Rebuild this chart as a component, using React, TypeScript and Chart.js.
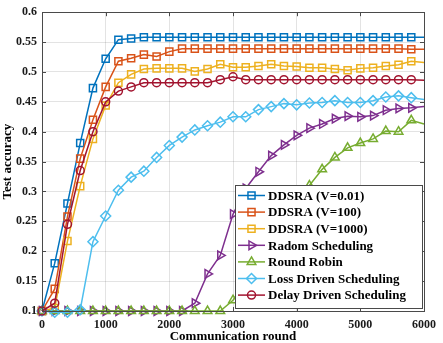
import React, { useEffect, useRef } from 'react';
import { Chart, registerables } from 'chart.js';
import { drawPoint } from 'chart.js/helpers';

Chart.register(...registerables);

const rounds = [0, 200, 400, 600, 800, 1000, 1200, 1400, 1600, 1800, 2000, 2200, 2400, 2600, 2800, 3000, 3200, 3400, 3600, 3800, 4000, 4200, 4400, 4600, 4800, 5000, 5200, 5400, 5600, 5800, 6000];

const ddsra001 = [0.1, 0.18, 0.28, 0.381, 0.473, 0.522, 0.554, 0.556, 0.558, 0.558, 0.558, 0.558, 0.558, 0.558, 0.558, 0.558, 0.558, 0.558, 0.558, 0.558, 0.558, 0.558, 0.558, 0.558, 0.558, 0.558, 0.558, 0.558, 0.558, 0.558, 0.558];
const ddsra100 = [0.1, 0.137, 0.258, 0.355, 0.42, 0.475, 0.518, 0.523, 0.529, 0.526, 0.534, 0.539, 0.539, 0.539, 0.539, 0.539, 0.539, 0.539, 0.539, 0.539, 0.539, 0.539, 0.539, 0.539, 0.539, 0.539, 0.539, 0.539, 0.539, 0.538, 0.538];
const ddsra1000 = [0.1, 0.105, 0.217, 0.309, 0.388, 0.444, 0.482, 0.496, 0.505, 0.506, 0.506, 0.506, 0.501, 0.505, 0.513, 0.508, 0.508, 0.51, 0.513, 0.51, 0.509, 0.507, 0.507, 0.505, 0.503, 0.506, 0.507, 0.51, 0.512, 0.518, 0.516];
const randomSched = [0.1, 0.1, 0.1, 0.1, 0.1, 0.1, 0.1, 0.1, 0.1, 0.1, 0.1, 0.1, 0.113, 0.162, 0.193, 0.262, 0.305, 0.333, 0.36, 0.378, 0.394, 0.406, 0.413, 0.422, 0.426, 0.425, 0.427, 0.436, 0.439, 0.44, 0.442];
const roundRobin = [0.1, 0.1, 0.1, 0.1, 0.1, 0.1, 0.1, 0.1, 0.1, 0.1, 0.1, 0.1, 0.1, 0.1, 0.1, 0.118, 0.15, 0.19, 0.225, 0.255, 0.285, 0.31, 0.337, 0.357, 0.373, 0.381, 0.388, 0.401, 0.4, 0.419, 0.413];
const lossDriven = [0.1, 0.098, 0.098, 0.102, 0.216, 0.259, 0.302, 0.324, 0.334, 0.357, 0.377, 0.391, 0.403, 0.41, 0.416, 0.425, 0.425, 0.437, 0.442, 0.447, 0.445, 0.448, 0.449, 0.452, 0.449, 0.449, 0.452, 0.458, 0.46, 0.457, 0.454];
const delayDriven = [0.1, 0.113, 0.245, 0.335, 0.4, 0.45, 0.468, 0.475, 0.482, 0.482, 0.482, 0.482, 0.482, 0.482, 0.487, 0.492, 0.487, 0.487, 0.487, 0.487, 0.487, 0.487, 0.487, 0.487, 0.487, 0.487, 0.487, 0.487, 0.487, 0.487, 0.486];

const seriesNames = ['DDSRA (V=0.01)', 'DDSRA (V=100)', 'DDSRA (V=1000)', 'Radom Scheduling', 'Round Robin', 'Loss Driven Scheduling', 'Delay Driven Scheduling'];
const seriesValues = [ddsra001, ddsra100, ddsra1000, randomSched, roundRobin, lossDriven, delayDriven];
const seriesColors = ['#0072BD', '#D95319', '#EDB120', '#7E2F8E', '#77AC30', '#4DBEEE', '#A2142F'];
const seriesMarkers = ['rect', 'rect', 'rect', 'triangle', 'triangle', 'rectRot', 'circle'];
const markerRotation = [0, 0, 0, 90, 0, 0, 0];
const markerRadius = [5, 5, 5, 5, 5, 5, 4];

const xTicks = [0, 1000, 2000, 3000, 4000, 5000, 6000];
const yTicks = [0.1, 0.15, 0.2, 0.25, 0.3, 0.35, 0.4, 0.45, 0.5, 0.55, 0.6];

const FONT = "'Liberation Serif', 'Times New Roman', serif";

export default function App() {
  const ref = useRef<HTMLCanvasElement>(null);

  useEffect(() => {
    const canvas = ref.current;
    if (!canvas) return;

    const frame = {
      id: 'frameAndLegend',
      afterDraw(chart: any) {
        const ctx = chart.ctx as CanvasRenderingContext2D;
        const a = chart.chartArea;
        const xs = chart.scales.x;
        const ys = chart.scales.y;
        ctx.save();
        ctx.strokeStyle = '#4a4a4a';
        ctx.lineWidth = 1;
        ctx.strokeRect(Math.round(a.left) + 0.5, Math.round(a.top) + 0.5, Math.round(a.right - a.left), Math.round(a.bottom - a.top));
        const tl = 4;
        ctx.beginPath();
        for (const v of xTicks) {
          const px = Math.round(xs.getPixelForValue(v)) + 0.5;
          ctx.moveTo(px, a.bottom);
          ctx.lineTo(px, a.bottom - tl);
          ctx.moveTo(px, a.top);
          ctx.lineTo(px, a.top + tl);
        }
        for (const v of yTicks) {
          const py = Math.round(ys.getPixelForValue(v)) + 0.5;
          ctx.moveTo(a.left, py);
          ctx.lineTo(a.left + tl, py);
          ctx.moveTo(a.right, py);
          ctx.lineTo(a.right - tl, py);
        }
        ctx.stroke();

        // legend
        const bx = 235, by = 185, bw = 187, bh = 123;
        ctx.fillStyle = '#ffffff';
        ctx.fillRect(bx, by, bw, bh);
        ctx.strokeStyle = '#4a4a4a';
        ctx.lineWidth = 1;
        ctx.strokeRect(bx + 0.5, by + 0.5, bw, bh);
        const rowH = 16.6;
        ctx.font = `bold 13px ${FONT}`;
        ctx.textBaseline = 'middle';
        ctx.textAlign = 'left';
        seriesNames.forEach((name, i) => {
          const cy = by + 10.5 + i * rowH;
          ctx.strokeStyle = seriesColors[i];
          ctx.lineWidth = 1.5;
          ctx.beginPath();
          ctx.moveTo(bx + 3, cy);
          ctx.lineTo(bx + 30, cy);
          ctx.stroke();
          ctx.fillStyle = 'rgba(0,0,0,0)';
          drawPoint(ctx, { pointStyle: seriesMarkers[i] as any, rotation: markerRotation[i], radius: markerRadius[i], borderWidth: 1.5 }, bx + 16.5, cy);
          ctx.fillStyle = '#000000';
          ctx.fillText(name, bx + 33, cy + 1);
        });
        ctx.restore();
      },
    };

    const last = rounds.length - 1;
    const chart = new Chart(canvas, {
      type: 'line',
      data: {
        datasets: seriesNames.map((name, i) => ({
          label: name,
          data: rounds.map((r, j) => ({ x: r, y: seriesValues[i][j] })),
          borderColor: seriesColors[i],
          backgroundColor: 'rgba(0,0,0,0)',
          pointBackgroundColor: 'rgba(0,0,0,0)',
          pointBorderColor: seriesColors[i],
          pointStyle: seriesMarkers[i] as any,
          pointRotation: markerRotation[i],
          pointRadius: (c: any) => (c.dataIndex === last ? 0 : markerRadius[i]),
          pointBorderWidth: 1.5,
          borderWidth: 1.5,
          tension: 0,
          clip: false as any,
          order: seriesNames.length - i,
        })),
      },
      options: {
        responsive: false,
        animation: false,
        devicePixelRatio: 1,
        layout: { padding: { top: 7, right: 15, left: 0, bottom: 0 } },
        plugins: {
          legend: { display: false },
          tooltip: { enabled: false },
        },
        scales: {
          x: {
            type: 'linear',
            min: 0,
            max: 6000,
            afterFit: (s: any) => { s.height = 32; },
            afterBuildTicks: (s: any) => { s.ticks = xTicks.map((v) => ({ value: v })); },
            ticks: {
              font: { family: FONT, weight: 'bold', size: 12 },
              color: '#1a1a1a',
              padding: 7,
              maxRotation: 0,
              callback: (v: any) => String(v),
            },
            grid: { color: 'rgba(38,38,38,0.13)', drawTicks: false, lineWidth: 1 },
            border: { display: false },
            title: {
              display: true,
              text: 'Communication round',
              font: { family: FONT, weight: 'bold', size: 13, lineHeight: 1 },
              color: '#000000',
              padding: { top: 0, bottom: 0 },
            },
          },
          y: {
            type: 'linear',
            min: 0.1,
            max: 0.6,
            afterFit: (s: any) => { s.width = 42; },
            afterBuildTicks: (s: any) => { s.ticks = yTicks.map((v) => ({ value: v })); },
            ticks: {
              font: { family: FONT, weight: 'bold', size: 12 },
              color: '#1a1a1a',
              padding: 5,
              callback: (v: any) => String(Number(Number(v).toFixed(2))),
            },
            grid: { color: 'rgba(38,38,38,0.13)', drawTicks: false, lineWidth: 1 },
            border: { display: false },
            title: {
              display: true,
              text: 'Test accuracy',
              font: { family: FONT, weight: 'bold', size: 13 },
              color: '#000000',
              padding: { top: 0, bottom: 0 },
            },
          },
        },
      },
      plugins: [frame],
    });

    return () => chart.destroy();
  }, []);

  return (
    <div style={{ position: 'absolute', left: 0, top: 0, width: 443, height: 343, background: '#ffffff' }}>
      <canvas ref={ref} width={443} height={343} style={{ display: 'block', width: 443, height: 343 }} />
    </div>
  );
}
